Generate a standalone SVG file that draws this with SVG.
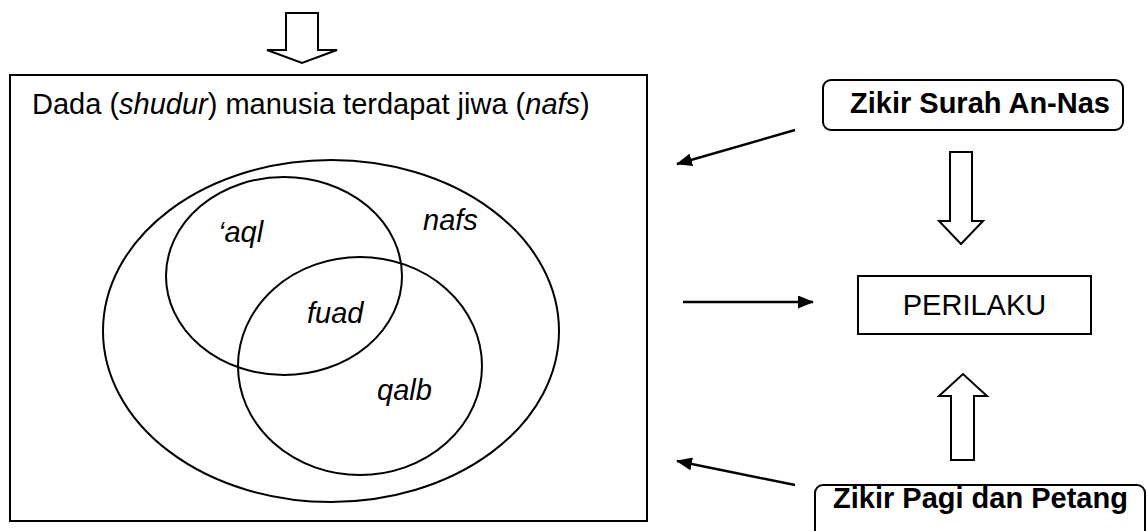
<svg xmlns="http://www.w3.org/2000/svg" width="1147" height="531" viewBox="0 0 1147 531">
<defs>
<style>
.ln{fill:none;stroke:#000;stroke-width:2}
.cn{fill:none;stroke:#000;stroke-width:2.5}
.blk{fill:#fff;stroke:#000;stroke-width:2;stroke-linejoin:miter}
.t{font-family:"Liberation Sans",Arial,sans-serif;font-size:29px;fill:#000}
.b{font-weight:bold}
.i{font-style:italic}
</style>
<marker id="ah" viewBox="0 0 16 13" refX="15" refY="6.5" markerWidth="16" markerHeight="13" orient="auto" markerUnits="userSpaceOnUse">
<path d="M0,0 L16,6.5 L0,13 z" fill="#000"/>
</marker>
</defs>
<rect width="1147" height="531" fill="#fff"/>
<g id="arrow-top"><polygon class="blk" points="286,13 318,13 318,50 337,50 302,63 267,50 286,50"/></g>
<g id="dada">
<rect class="ln" x="10" y="75" width="637" height="446"/>
<text class="t" x="32" y="114">Dada (<tspan class="i">shudur</tspan>) manusia terdapat jiwa (<tspan class="i">nafs</tspan>)</text>
</g>
<g id="nafs">
<ellipse class="ln" cx="331" cy="331" rx="228" ry="171"/>
<text class="t i" x="423" y="230">nafs</text>
</g>
<g id="aql">
<ellipse class="ln" cx="284" cy="276" rx="118" ry="99"/>
<text class="t i" x="218" y="242">‘aql</text>
</g>
<g id="qalb">
<ellipse class="ln" cx="360" cy="366" rx="122" ry="109"/>
<text class="t i" x="377" y="400">qalb</text>
</g>
<g id="fuad"><text class="t i" x="307" y="323">fuad</text></g>
<g id="zikir-nas">
<rect class="ln" x="823" y="80" width="300" height="50" rx="8"/>
<text class="t b" x="850" y="113">Zikir Surah An-Nas</text>
</g>
<g id="perilaku">
<rect class="ln" x="858" y="276" width="233" height="58"/>
<text class="t" x="974.5" y="315" text-anchor="middle">PERILAKU</text>
</g>
<g id="zikir-pagi">
<rect class="ln" x="815" y="485" width="330" height="60" rx="8"/>
<text class="t b" x="833" y="508">Zikir Pagi dan Petang</text>
</g>
<g id="connectors">
<line class="cn" x1="795" y1="130" x2="677" y2="164" marker-end="url(#ah)"/>
<line class="cn" x1="683" y1="302" x2="813" y2="302" marker-end="url(#ah)"/>
<line class="cn" x1="795" y1="485" x2="677" y2="461" marker-end="url(#ah)"/>
<polygon class="blk" points="950,152 972,152 972,221 983,221 961,244 939,221 950,221"/>
<polygon class="blk" points="951,460 974,460 974,396 987,396 963,374 939,396 951,396"/>
</g>
</svg>
